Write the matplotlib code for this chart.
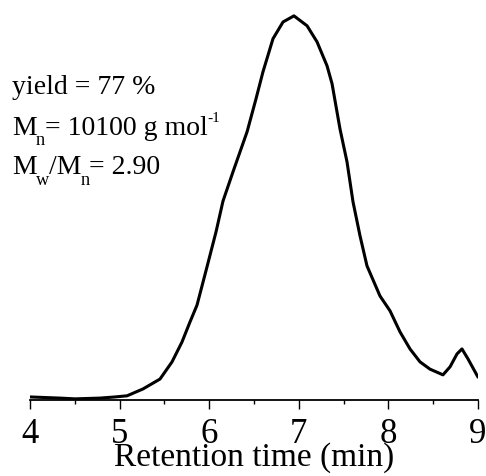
import matplotlib
matplotlib.use("Agg")
import matplotlib.pyplot as plt
import numpy as np

plt.rcParams['font.family'] = ['Liberation Serif', 'DejaVu Serif']

# Retention time (min) and normalized detector signal
time_min = [4.000, 4.335, 4.502, 4.781, 4.949, 5.083, 5.261, 5.451, 5.585, 5.696,
            5.786, 5.864, 5.975, 6.076, 6.154, 6.266, 6.423, 6.522, 6.600, 6.712,
            6.824, 6.946, 7.092, 7.203, 7.315, 7.371, 7.460, 7.538, 7.605, 7.683,
            7.761, 7.906, 8.018, 8.129, 8.241, 8.353, 8.464, 8.609, 8.688, 8.766,
            8.821, 8.888, 9.000]
signal = [0.000, -0.003, -0.005, -0.003, 0.000, 0.003, 0.021, 0.047, 0.092, 0.144,
          0.197, 0.241, 0.341, 0.433, 0.514, 0.591, 0.696, 0.782, 0.853, 0.940,
          0.984, 1.000, 0.974, 0.932, 0.869, 0.822, 0.703, 0.617, 0.512, 0.423,
          0.344, 0.265, 0.226, 0.171, 0.126, 0.092, 0.073, 0.058, 0.079, 0.113,
          0.126, 0.100, 0.052]
x_ticks = [4, 5, 6, 7, 8, 9]
x_label = 'Retention time (min)'
yield_text = 'yield = 77 %'
mn_value = '= 10100 g mol'
pdi_value = '= 2.90'

W, H = 486, 477
fig = plt.figure(figsize=(W / 100, H / 100), dpi=100)
ax = fig.add_axes([30 / W, 76 / H, 448 / W, 391 / H])

ax.plot(time_min, signal, color='black', lw=2.2, solid_joinstyle='round',
        solid_capstyle='round')

ax.set_xlim(4, 9)
ax.set_ylim(-0.008, 1.018)
for s in ['top', 'right', 'left']:
    ax.spines[s].set_visible(False)
ax.spines['bottom'].set_linewidth(1.3)
ax.set_yticks([])
ax.set_xticks(x_ticks)
ax.set_xticks(np.arange(4.5, 9, 1.0), minor=True)
ax.tick_params(axis='x', which='major', direction='out', length=6.5, width=1.0,
               labelsize=25, pad=6)
ax.tick_params(axis='x', which='minor', direction='out', length=3, width=1.0)
ax.set_xlabel(x_label, fontsize=24, labelpad=-6.5)

renderer = fig.canvas.get_renderer()
BASE = 20


def rich(x0, y0, pieces):
    x = x0
    for s, sc, dy in pieces:
        t = fig.text(x / W, 1 - (y0 + dy) / H, s, fontsize=BASE * sc,
                     ha='left', va='baseline')
        x += t.get_window_extent(renderer).width - 0.5


rich(12, 94, [(yield_text, 1, 0)])
rich(12, 135, [('M', 1, 0), ('n', 0.66, 10), (mn_value, 1, 0), ('-1', 0.55, -13)])
rich(12, 174, [('M', 1, 0), ('w', 0.66, 11), ('/M', 1, 0), ('n', 0.66, 11),
               (pdi_value, 1, 0)])

fig.savefig('out.png', dpi=100)
